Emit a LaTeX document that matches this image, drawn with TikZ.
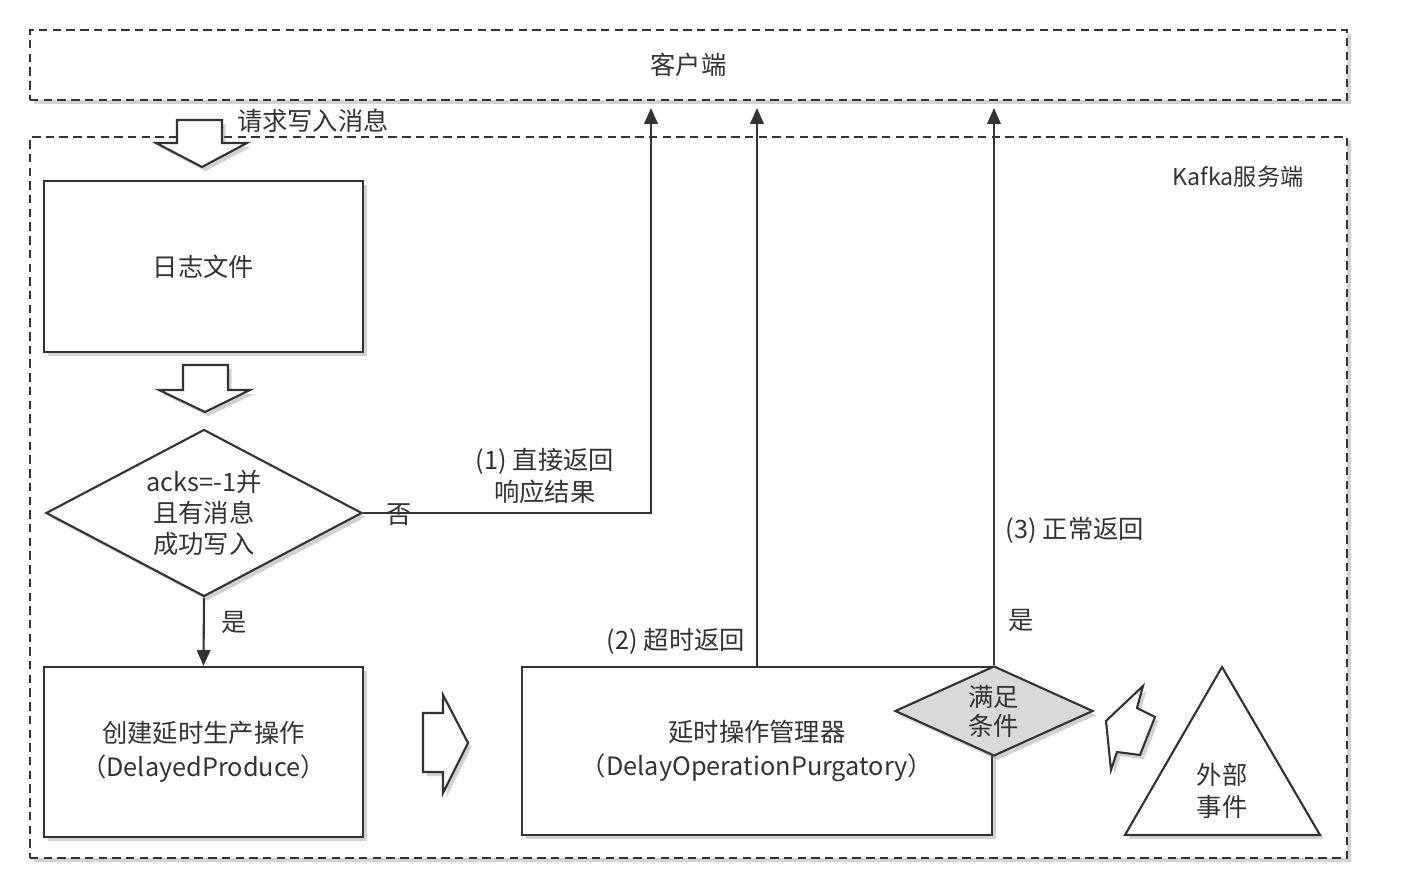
\documentclass[tikz,border=0pt]{standalone}
\usepackage{fontspec}
\setmainfont{Noto Sans CJK SC}
\usepackage{tikz}
\usetikzlibrary{shapes.geometric, arrows.meta, shadows, positioning}
\tikzset{>={Triangle[width=3.8pt,length=4.5pt]}}
\tikzset{
  softshadow/.style={drop shadow={shadow xshift=1pt, shadow yshift=-1.2pt, opacity=0.35}},
  box/.style={draw, fill=white, inner sep=0pt, align=center, softshadow},
  dashbox/.style={box, dash pattern=on 2.4pt off 1.5pt},
  decision/.style={box, diamond, aspect=1.9},
  plate/.style={draw, fill=white, line join=miter, softshadow}
}

\begin{document}
\begin{tikzpicture}[line width=0.6pt, color=black!80, font=\fontsize{7.2}{9.2}\selectfont]

\useasboundingbox (0,0) rectangle (14.1,8.92);
\fill[white] (0,0) rectangle (14.1,8.92);

% Client and server
\node[dashbox, minimum width=13.17cm, minimum height=0.70cm] (client) at (6.885,8.27) {客户端};
\node[dashbox, minimum width=13.17cm, minimum height=7.21cm] (server) at (6.885,3.945) {};
\node[font=\fontsize{6.6}{8}\selectfont] (kafka) at (12.38,7.15) {Kafka服务端};

% Request
\node (req) at (3.13,7.71) {请求写入消息};
\draw[plate] (1.77,7.72) -- (2.22,7.72) -- (2.22,7.49) -- (2.47,7.49) -- (2.02,7.25) -- (1.56,7.49) -- (1.77,7.49) -- cycle;

% Log file and check
\node[box, minimum width=3.19cm, minimum height=1.71cm] (log) at (2.035,6.255) {日志文件};
\draw[plate] (1.83,5.27) -- (2.28,5.27) -- (2.28,5.02) -- (2.50,5.02) -- (2.05,4.80) -- (1.59,5.02) -- (1.83,5.02) -- cycle;
\node[decision, minimum width=3.16cm, minimum height=1.67cm, font=\fontsize{7.2}{8.8}\selectfont] (acks) at (2.04,3.79) {acks=-1并\\且有消息\\成功写入};

% Delayed produce
\node[box, minimum width=3.19cm, minimum height=1.70cm, font=\fontsize{7.2}{9.6}\selectfont] (create) at (2.035,1.40) {创建延时生产操作\\（DelayedProduce）};
\draw[plate] (4.23,1.79) -- (4.43,1.79) -- (4.43,1.97) -- (4.68,1.49) -- (4.43,0.99) -- (4.43,1.20) -- (4.23,1.20) -- cycle;

% Purgatory
\node[box, minimum width=4.70cm, minimum height=1.68cm, font=\fontsize{7.2}{9.6}\selectfont] (purg) at (7.57,1.41) {延时操作管理器\\（DelayOperationPurgatory）};
\node[decision, fill=black!15, aspect=2.2, minimum width=1.98cm, minimum height=0.90cm, font=\fontsize{7.2}{8.2}\selectfont] (sat) at (9.94,1.81) {满足\\条件};

% External event
\draw[plate] (11.43,2.06) -- (11.06,1.71) -- (11.11,1.22) -- (11.17,1.40) -- (11.40,1.37) -- (11.55,1.75) -- (11.37,1.84) -- cycle;
\draw[plate] (12.22,2.25) -- (13.20,0.57) -- (11.25,0.57) -- cycle;
\node[align=center] (ext) at (12.22,1.01) {外部\\事件};

% Returns
\coordinate (top1) at (6.51,7.84);
\draw[->] (acks.east) -| (top1);
\node (no) at (3.99,3.77) {否};
\node[align=center] (ret1) at (5.45,4.16) {(1) 直接返回\\响应结果};
\draw[->] (acks.south) -- (create.north);
\node (yes1) at (2.34,2.70) {是};
\draw[->] (purg.north) -- (purg.north |- top1);
\node (ret2) at (6.76,2.51) {(2) 超时返回};
\draw[->] (sat.north) -- (sat.north |- top1);
\node (yes2) at (10.21,2.72) {是};
\node (ret3) at (10.75,3.62) {(3) 正常返回};

\end{tikzpicture}
\end{document}
